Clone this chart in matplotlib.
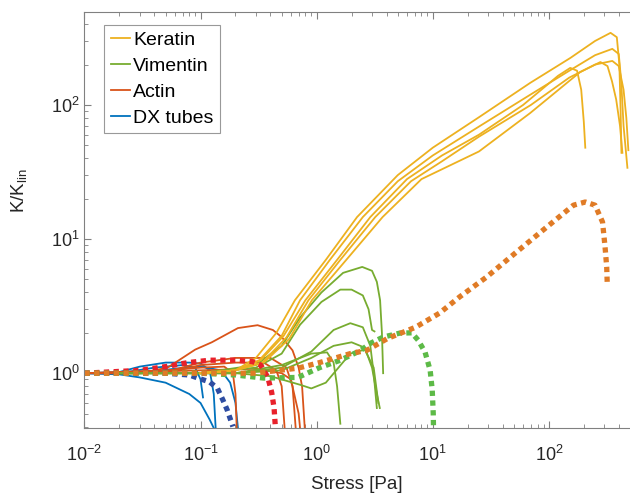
import numpy as np
import matplotlib
matplotlib.use("Agg")
import matplotlib.pyplot as plt

plt.rcParams["font.family"] = ["Liberation Sans", "DejaVu Sans"]
plt.rcParams["mathtext.fontset"] = "custom"
plt.rcParams["mathtext.rm"] = "Liberation Sans"
plt.rcParams["mathtext.it"] = "Liberation Sans:italic"

# -----------------------
# DATA (stress [Pa], K/K_lin)
# -----------------------
keratin = [
    ([0.1, 0.2, 0.3, 0.45, 0.65, 1.2, 2.23, 5, 10, 25, 69, 153, 250, 340, 385, 405, 415, 422],
     [1.0, 1.05, 1.3, 2.0, 3.5, 7.0, 14.6, 30, 48, 81, 146, 224, 300, 345, 320, 200, 90, 44]),
    ([0.1, 0.2, 0.32, 0.5, 0.72, 1.3, 2.5, 5, 10, 25, 70, 150, 250, 352, 400, 420, 440, 475],
     [1.0, 1.05, 1.25, 1.9, 3.5, 7.0, 14.6, 27, 42, 69, 120, 180, 235, 262, 240, 150, 70, 34]),
    ([0.1, 0.2, 0.33, 0.52, 0.8, 1.5, 2.9, 6, 12, 25, 60, 120, 153, 175, 190, 200, 206],
     [1.0, 1.05, 1.25, 1.9, 3.5, 7.0, 14.6, 28, 42, 60, 100, 165, 189, 180, 130, 75, 48]),
    ([0.1, 0.2, 0.34, 0.55, 0.85, 1.6, 3.2, 6.5, 12, 25, 70, 150, 250, 352, 400, 440, 465, 484],
     [1.0, 1.05, 1.2, 1.85, 3.5, 7.0, 14.6, 27, 38, 58, 100, 160, 200, 213, 195, 130, 80, 46]),
    ([0.1, 0.2, 0.35, 0.58, 0.91, 1.8, 3.7, 8, 25, 69, 186, 278, 320, 350, 380, 410, 430],
     [1.0, 1.05, 1.2, 1.8, 3.5, 7.0, 14.6, 28, 45, 87, 176, 209, 195, 150, 110, 70, 44]),
]

vimentin = [
    ([0.02, 0.1, 0.3, 0.5, 0.72, 1.1, 1.69, 2.47, 3.0, 3.3, 3.52, 3.65, 3.74],
     [1.0, 1.0, 1.15, 1.6, 2.6, 4.0, 5.6, 6.2, 5.8, 4.8, 3.5, 2.0, 1.0]),
    ([0.02, 0.1, 0.3, 0.5, 0.72, 1.1, 1.6, 2.0, 2.5, 2.8, 3.0, 3.15],
     [1.0, 1.0, 1.1, 1.4, 2.3, 3.4, 4.2, 4.2, 3.8, 3.0, 2.1, 2.05]),
    ([0.02, 0.2, 0.5, 0.9, 1.4, 1.95, 2.5, 2.9, 3.1, 3.3],
     [1.0, 1.0, 1.1, 1.45, 2.1, 2.36, 2.2, 1.6, 1.0, 0.55]),
    ([0.02, 0.2, 0.5, 0.9, 1.4, 2.0, 2.6, 3.0, 3.3, 3.5],
     [1.0, 1.0, 1.05, 1.3, 1.6, 1.7, 1.55, 1.1, 0.7, 0.55]),
    ([0.02, 0.2, 0.5, 0.9, 1.23, 1.4, 1.5, 1.6],
     [1.0, 1.0, 1.15, 1.4, 1.43, 1.2, 0.8, 0.42]),
    ([0.02, 0.2, 0.4, 0.72, 0.9, 1.2, 1.95, 2.6, 3.1, 3.4],
     [1.0, 1.0, 0.95, 0.82, 0.77, 0.85, 1.4, 1.5, 1.1, 0.6]),
]

actin = [
    ([0.01, 0.03, 0.052, 0.09, 0.125, 0.21, 0.31, 0.42, 0.5, 0.62, 0.7, 0.75, 0.79],
     [1.0, 1.0, 1.1, 1.5, 1.7, 2.17, 2.28, 2.1, 1.86, 1.48, 1.1, 0.79, 0.39]),
    ([0.01, 0.05, 0.1, 0.16, 0.19, 0.2, 0.205],
     [1.0, 1.05, 1.1, 1.12, 1.0, 0.7, 0.39]),
    ([0.01, 0.05, 0.1, 0.2, 0.35, 0.45, 0.5, 0.53],
     [1.0, 1.0, 1.15, 1.2, 1.2, 1.05, 0.8, 0.39]),
    ([0.01, 0.05, 0.1, 0.2, 0.4, 0.55, 0.62, 0.66],
     [1.0, 1.02, 1.2, 1.3, 1.3, 1.1, 0.8, 0.39]),
    ([0.01, 0.1, 0.3, 0.5, 0.6, 0.7, 0.72],
     [1.0, 1.05, 1.08, 1.0, 0.9, 0.5, 0.39]),
]

dx_tubes = [
    ([0.01, 0.02, 0.03, 0.05, 0.08, 0.1, 0.12, 0.13, 0.135],
     [1.0, 1.02, 1.12, 1.2, 1.2, 1.18, 1.05, 0.7, 0.39]),
    ([0.01, 0.02, 0.04, 0.07, 0.09, 0.1, 0.105],
     [1.0, 1.0, 1.1, 1.15, 1.1, 0.9, 0.66]),
    ([0.01, 0.02, 0.03, 0.05, 0.08, 0.1, 0.12, 0.13],
     [1.0, 0.98, 0.93, 0.85, 0.7, 0.6, 0.45, 0.39]),
    ([0.01, 0.03, 0.06, 0.1, 0.15, 0.18, 0.2, 0.21],
     [1.0, 1.0, 1.08, 1.12, 1.05, 0.85, 0.6, 0.39]),
]

# model curves (thick dotted)
model_blue_x = [0.01, 0.05, 0.08, 0.095, 0.12, 0.14, 0.156, 0.17, 0.19]
model_blue_y = [1.0, 1.0, 0.97, 0.92, 0.86, 0.77, 0.63, 0.53, 0.4]
model_red_x = [0.01, 0.03, 0.05, 0.078, 0.12, 0.2, 0.28, 0.33, 0.38, 0.41, 0.43, 0.44]
model_red_y = [1.0, 1.05, 1.12, 1.2, 1.25, 1.25, 1.22, 1.15, 0.93, 0.72, 0.55, 0.41]
model_orange_x = [0.01, 0.1, 0.29, 0.69, 1.06, 1.95, 2.7, 4.1, 7.1, 11.4, 17, 29, 49, 96,
                  163, 206, 250, 290, 305, 315, 318]
model_orange_y = [1.0, 1.0, 1.0, 1.09, 1.2, 1.4, 1.48, 1.82, 2.2, 2.8, 3.7, 5.2, 7.6, 12.3,
                  17.9, 18.9, 17.9, 13.4, 8.7, 6.2, 4.8]
model_green_x = [0.01, 0.1, 0.2, 0.35, 0.69, 1.06, 1.6, 2.4, 2.9, 3.75, 5.2, 6.6, 7.5, 8.6,
                 9.5, 9.9, 10.1, 10.15]
model_green_y = [1.0, 1.0, 0.97, 0.92, 0.93, 1.1, 1.25, 1.48, 1.67, 1.86, 1.99, 2.0, 1.76,
                 1.43, 1.05, 0.75, 0.5, 0.4]

# -----------------------
# PLOT
# -----------------------
fig = plt.figure(figsize=(6.3, 4.96), dpi=100)
ax = fig.add_axes([0.134, 0.137, 0.866, 0.838])

LW = 1.3
groups = [
    (dx_tubes, "#0072BD", "DX tubes"),
    (actin, "#D95319", "Actin"),
    (vimentin, "#77AC30", "Vimentin"),
    (keratin, "#EDB120", "Keratin"),
]
handles = {}
for curves, color, name in groups:
    for i, (xs, ys) in enumerate(curves):
        ln, = ax.plot(xs, ys, color=color, lw=LW)
        if i == 0:
            handles[name] = ln

dot = dict(lw=3.8, linestyle=(0, (1, 0.85)), dash_capstyle="butt")
ax.plot(model_blue_x, model_blue_y, color="#2E4DA2", **dot)
ax.plot(model_red_x, model_red_y, color="#E8212B", **dot)
ax.plot(model_green_x, model_green_y, color="#5DBA47", **dot)
ax.plot(model_orange_x, model_orange_y, color="#E07B26", **dot)

ax.set_xscale("log")
ax.set_yscale("log")
ax.set_xlim(0.01, 500)
ax.set_ylim(0.39, 490)

axis_col = "#808080"
for side in ["left", "bottom", "top"]:
    ax.spines[side].set_color(axis_col)
    ax.spines[side].set_linewidth(0.8)
ax.spines["right"].set_visible(False)
ax.tick_params(which="both", direction="in", top=True, right=False, color=axis_col,
               labelcolor="#262626", labelsize=13)
ax.tick_params(which="major", length=5, width=0.8)
ax.tick_params(which="minor", length=2.8, width=0.6)
ax.tick_params(axis="x", pad=12)
ax.set_yticks([1, 10, 100])

ax.set_xlabel("Stress [Pa]", fontsize=13.5, color="#262626", labelpad=8)
ax.set_ylabel(r"K/K$_{\mathrm{lin}}$", fontsize=13.5, color="#262626")
ax.yaxis.set_label_coords(-0.102, 0.57)

order = ["Keratin", "Vimentin", "Actin", "DX tubes"]
leg = ax.legend([handles[n] for n in order], order, loc="upper left",
                bbox_to_anchor=(0.036, 0.970), borderaxespad=0, fontsize=14,
                handlelength=1.0, handletextpad=0.15, labelspacing=0.42,
                borderpad=0.35, fancybox=False, framealpha=1, edgecolor="#999999")
leg.get_frame().set_linewidth(0.8)

fig.savefig("out.png", dpi=100)
